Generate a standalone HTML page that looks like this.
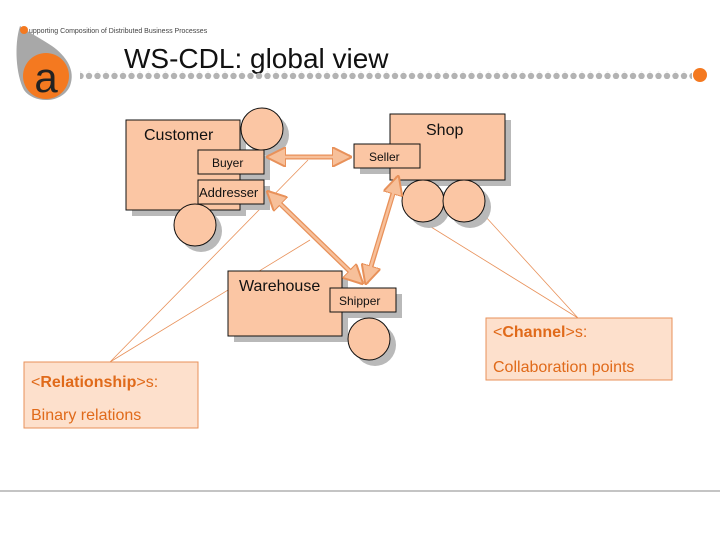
<!DOCTYPE html>
<html><head><style>
body{margin:0;width:720px;height:540px;background:#fff;overflow:hidden;font-family:"Liberation Sans",sans-serif}
</style></head><body>
<svg width="720" height="540" xmlns="http://www.w3.org/2000/svg" font-family="Liberation Sans, sans-serif">
<defs>
<pattern id="dots" x="0" y="0" width="8.5" height="8" patternUnits="userSpaceOnUse"><circle cx="4" cy="4" r="3.2" fill="#b3b3b3"/></pattern>
<marker id="ah" viewBox="0 0 10 10" refX="9" refY="5" markerWidth="4" markerHeight="4" orient="auto-start-reverse"><path d="M0,0 L10,5 L0,10 z" fill="#f7c09a" stroke="#e8915a" stroke-width="1"/></marker>
</defs>
<!-- header -->
<path d="M20,26 C14,45 16,75 24,90 C34,104 62,104 70,86 C76,70 66,56 52,46 C40,38 28,32 20,26 Z" fill="#a8a8a8"/>
<circle cx="46" cy="76" r="23" fill="#f47920"/>
<text x="46" y="92" font-size="42" text-anchor="middle" fill="#222">a</text>
<circle cx="24" cy="30" r="4" fill="#f47920"/>
<text x="29" y="33" font-size="7" fill="#444">upporting  Composition of Distributed Business Processes</text>
<text x="124" y="68" font-size="28" fill="#111">WS-CDL: global view</text>
<rect x="80" y="71" width="612" height="8" fill="url(#dots)"/>
<circle cx="700" cy="75" r="7" fill="#f47920"/>
<!-- thin lines -->
<g stroke="#e8915a" stroke-width="0.8" fill="none">
<line x1="110" y1="362" x2="308" y2="160"/>
<line x1="110" y1="362" x2="310" y2="240"/>
<line x1="423" y1="222" x2="578" y2="318"/>
<line x1="485" y1="216" x2="578" y2="318"/>
</g>
<!-- shadows -->
<g fill="#b9b9b9">
<rect x="132" y="126" width="114" height="90"/>
<rect x="396" y="120" width="115" height="66"/>
<rect x="234" y="277" width="114" height="65"/>
<rect x="204" y="156" width="66" height="24"/>
<rect x="204" y="186" width="66" height="24"/>
<rect x="360" y="150" width="66" height="24"/>
<rect x="336" y="294" width="66" height="24"/>
<circle cx="268" cy="135" r="21"/><circle cx="201" cy="231" r="21"/>
<circle cx="429" cy="207" r="21"/><circle cx="470" cy="207" r="21"/>
<circle cx="375" cy="345" r="21"/>
</g>
<g fill="#fbc6a4" stroke="#111" stroke-width="1">
<rect x="126" y="120" width="114" height="90"/>
<circle cx="262" cy="129" r="21"/>
<circle cx="195" cy="225" r="21"/>
<rect x="198" y="150" width="66" height="24"/>
<rect x="198" y="180" width="66" height="24"/>
<rect x="390" y="114" width="115" height="66"/>
<circle cx="423" cy="201" r="21"/><circle cx="464" cy="201" r="21"/>
<rect x="354" y="144" width="66" height="24"/>
<rect x="228" y="271" width="114" height="65"/>
<circle cx="369" cy="339" r="21"/>
<rect x="330" y="288" width="66" height="24"/>
</g>
<g fill="#111">
<text x="144" y="140" font-size="16">Customer</text>
<text x="212" y="167" font-size="12">Buyer</text>
<text x="199" y="197" font-size="13">Addresser</text>
<text x="426" y="135" font-size="16">Shop</text>
<text x="369" y="161" font-size="12">Seller</text>
<text x="239" y="291" font-size="16">Warehouse</text>
<text x="339" y="305" font-size="12">Shipper</text>
</g>
<!-- double arrows -->
<g stroke="#e8915a" stroke-width="5" fill="none" marker-start="url(#ah)" marker-end="url(#ah)">
<line x1="268" y1="157" x2="350" y2="157" />
<line x1="268" y1="192" x2="362" y2="283"/>
<line x1="398" y1="177" x2="366" y2="283"/>
</g>
<g stroke="#f7c09a" stroke-width="2.5" fill="none">
<line x1="272" y1="157" x2="346" y2="157"/>
<line x1="271" y1="195" x2="359" y2="280"/>
<line x1="397" y1="181" x2="367" y2="279"/>
</g>
<!-- callouts -->
<rect x="24" y="362" width="174" height="66" fill="#fde0cc" stroke="#e8915a"/>
<text x="31" y="387" font-size="16" fill="#e06a1a">&lt;<tspan font-weight="bold">Relationship</tspan>&gt;s:</text>
<text x="31" y="420" font-size="16" fill="#e06a1a">Binary relations</text>
<rect x="486" y="318" width="186" height="62" fill="#fde0cc" stroke="#e8915a"/>
<text x="493" y="337" font-size="16" fill="#e06a1a">&lt;<tspan font-weight="bold">Channel</tspan>&gt;s:</text>
<text x="493" y="372" font-size="16" fill="#e06a1a">Collaboration points</text>
<line x1="0" y1="491" x2="720" y2="491" stroke="#888" stroke-width="1"/>
</svg>
</body></html>
